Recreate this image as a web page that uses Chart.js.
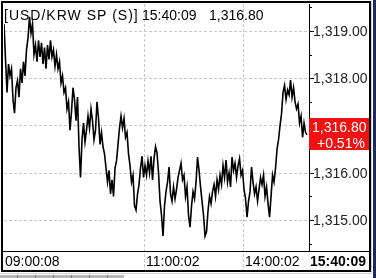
<!DOCTYPE html>
<html>
<head>
<meta charset="utf-8">
<script src="https://cdn.jsdelivr.net/npm/chart.js@4.4.1/dist/chart.umd.min.js"></script>
<style>
    html, body { margin: 0; padding: 0; background: #fff; }
    canvas { display: block; }
</style>
</head>
<body>
<canvas id="chart" width="376" height="278"></canvas>
<script>
// Tick prices, left to right
const prices = [
    1319.15, 1318.40, 1317.70, 1318.30, 1318.05, 1318.20, 1317.55, 1317.26,
    1317.80, 1317.95, 1317.60, 1318.20, 1317.90, 1318.35, 1318.05, 1318.60,
    1318.85, 1319.30, 1318.95, 1319.15, 1318.50, 1318.70, 1318.35, 1318.80,
    1318.45, 1318.75, 1318.30, 1318.65, 1318.20, 1318.70, 1318.40, 1318.80,
    1318.45, 1318.60, 1318.25, 1318.50, 1318.20, 1318.35, 1317.90, 1318.05,
    1317.70, 1317.80, 1317.35, 1317.50, 1316.90, 1317.30, 1317.80, 1317.55,
    1317.10, 1317.60, 1316.55, 1315.90, 1316.70, 1317.05, 1316.65, 1316.90,
    1317.20, 1316.95, 1317.35, 1317.10, 1316.70, 1316.90, 1317.50, 1317.15,
    1316.60, 1316.85, 1316.55, 1316.40, 1316.10, 1315.80, 1316.05, 1315.55,
    1315.85, 1315.50, 1316.10, 1316.25, 1316.60, 1316.95, 1317.20, 1316.95,
    1317.15, 1316.75, 1316.85, 1316.40, 1316.15, 1315.80, 1315.95, 1315.30,
    1315.21, 1315.55, 1315.75, 1316.10, 1316.35, 1315.90, 1316.15, 1315.95,
    1316.25, 1316.00, 1316.35, 1315.85, 1316.30, 1316.55, 1316.42, 1316.00,
    1315.40, 1315.10, 1314.66, 1315.30, 1315.60, 1315.80, 1316.12, 1315.55,
    1315.40, 1315.70, 1315.45, 1315.65, 1315.90, 1316.05, 1316.20, 1315.85,
    1315.95, 1315.50, 1315.70, 1315.10, 1314.85, 1315.30, 1315.60, 1315.45,
    1315.80, 1316.33, 1316.05, 1315.70, 1315.40, 1315.10, 1314.66, 1314.75,
    1315.20, 1315.50, 1315.35, 1315.60, 1315.75, 1315.50, 1315.85, 1315.65,
    1315.95, 1315.75, 1316.15, 1315.90, 1316.27, 1315.80, 1316.00, 1315.70,
    1316.33, 1316.05, 1316.20, 1315.90, 1316.15, 1316.30, 1315.95, 1316.05,
    1315.65, 1315.45, 1315.06, 1315.40, 1315.60, 1316.12, 1315.80, 1315.55,
    1315.70, 1315.40, 1315.65, 1315.90, 1315.75, 1315.95, 1315.50, 1315.70,
    1315.35, 1315.06, 1315.50, 1315.95, 1315.80, 1316.10, 1316.50, 1316.70,
    1317.00, 1317.25, 1317.70, 1317.85, 1317.55, 1317.75, 1317.65, 1317.96,
    1317.60, 1317.80, 1317.50, 1317.35, 1317.45, 1317.05, 1317.20, 1316.75,
    1317.05, 1316.85, 1316.80
];

const timeTickIndex = [0, 93, 159];
const timeTickLabels = ['09:00:08', '11:00:02', '14:00:02'];
const lastTime = '15:40:09';
const yTicks = [1315, 1316, 1317, 1318, 1319];
const yMinorTicks = [1314.5, 1315.5, 1316.5, 1317.5, 1318.5, 1319.5];
const symbol = '[USD/KRW SP (S)]';
const changePct = '+0.51%';

const lastPrice = prices[prices.length - 1];
const FONT = '14px "Liberation Sans", Arial, sans-serif';
const BOLD = 'bold 14px "Liberation Sans", Arial, sans-serif';

function fmt(v) {
    return v.toLocaleString('en-US', { minimumFractionDigits: 2, maximumFractionDigits: 2 });
}

const quoteFrame = {
    id: 'quoteFrame',
    beforeDraw(chart) {
        const ctx = chart.ctx;
        ctx.save();
        ctx.fillStyle = '#fff';
        ctx.fillRect(0, 0, chart.width, chart.height);
        ctx.restore();
    },
    beforeDatasetsDraw(chart) {
        const { ctx, chartArea: a, scales: { x, y } } = chart;
        ctx.save();
        ctx.strokeStyle = '#c8c8c8';
        ctx.lineWidth = 1;
        ctx.setLineDash([3, 2]);
        yTicks.forEach(v => {
            const py = Math.round(y.getPixelForValue(v)) + 0.5;
            ctx.beginPath();
            ctx.moveTo(a.left, py);
            ctx.lineTo(a.right, py);
            ctx.stroke();
        });
        timeTickIndex.slice(1).forEach(i => {
            const px = Math.round(x.getPixelForValue(i)) + 0.5;
            ctx.beginPath();
            ctx.moveTo(px, a.top);
            ctx.lineTo(px, 270);
            ctx.stroke();
        });
        ctx.restore();
    },
    afterDatasetsDraw(chart) {
        const { ctx, chartArea: a, scales: { x, y } } = chart;
        ctx.save();

        // title (the original font is wider, so letters are spread a little)
        ctx.fillStyle = '#000';
        ctx.font = FONT;
        ctx.textBaseline = 'alphabetic';
        ctx.letterSpacing = '1px';
        ctx.fillText(symbol, 4, 20);
        ctx.letterSpacing = '0px';
        ctx.fillText(lastTime, 142, 20);
        ctx.fillText(fmt(lastPrice), 209, 20);

        // axis lines
        ctx.strokeStyle = '#000';
        ctx.lineWidth = 1;
        ctx.beginPath();
        ctx.moveTo(a.right + 0.5, a.top);
        ctx.lineTo(a.right + 0.5, a.bottom);
        ctx.moveTo(3, a.bottom + 0.5);
        ctx.lineTo(370, a.bottom + 0.5);
        ctx.stroke();

        // y ticks and labels, clipped by the frame
        ctx.beginPath();
        ctx.rect(a.right, a.top, 369 - a.right, a.bottom - a.top);
        ctx.clip();
        ctx.beginPath();
        yTicks.forEach(v => {
            const py = Math.round(y.getPixelForValue(v)) + 0.5;
            ctx.moveTo(a.right, py);
            ctx.lineTo(a.right + 5, py);
        });
        yMinorTicks.forEach(v => {
            const py = Math.round(y.getPixelForValue(v)) + 0.5;
            ctx.moveTo(a.right, py);
            ctx.lineTo(a.right + 3, py);
        });
        ctx.stroke();
        ctx.fillStyle = '#222';
        ctx.textBaseline = 'middle';
        yTicks.forEach(v => {
            ctx.fillText(fmt(v), a.right + 4, y.getPixelForValue(v) + 1);
        });

        // current price box
        const py = Math.round(y.getPixelForValue(lastPrice));
        ctx.fillStyle = '#f21010';
        ctx.fillRect(a.right, py - 17, 369 - a.right, 32);
        ctx.fillStyle = '#fff';
        ctx.textBaseline = 'alphabetic';
        ctx.fillText(fmt(lastPrice), a.right + 3, py - 3);
        ctx.fillText(changePct, a.right + 8, py + 13);
        ctx.restore();

        // time labels
        ctx.save();
        ctx.fillStyle = '#000';
        ctx.font = FONT;
        ctx.textBaseline = 'alphabetic';
        timeTickIndex.forEach((idx, k) => {
            const px = Math.round(x.getPixelForValue(idx));
            ctx.fillText(timeTickLabels[k], px + (k === 0 ? 1 : 2), 266);
        });
        ctx.font = BOLD;
        ctx.textAlign = 'right';
        ctx.fillText(lastTime, 366, 266);

        // outer frame
        ctx.strokeStyle = '#000';
        ctx.lineWidth = 2;
        ctx.strokeRect(2, 2, 368, 269);
        ctx.strokeStyle = '#d0d0d0';
        ctx.lineWidth = 1;
        ctx.beginPath();
        ctx.moveTo(371.5, 1);
        ctx.lineTo(371.5, 273.5);
        ctx.lineTo(0, 273.5);
        ctx.stroke();
        ctx.fillStyle = '#1e2a5e';
        ctx.fillRect(373, 0, 3, 278);

        // tab strip below the window
        ctx.fillStyle = '#b8b8b8';
        ctx.fillRect(0, 275, 124, 3);
        ctx.fillStyle = '#7a7a7a';
        for (let t = 17; t < 124; t += 18) {
            ctx.fillRect(t, 275, 1, 3);
        }
        ctx.restore();
    }
};

new Chart(document.getElementById('chart'), {
    type: 'line',
    data: {
        datasets: [{
            data: prices.map((p, i) => ({ x: i, y: p })),
            borderColor: '#000',
            borderWidth: 1.6,
            pointRadius: 0,
            tension: 0,
            fill: false
        }]
    },
    options: {
        responsive: false,
        devicePixelRatio: 1,
        animation: false,
        layout: { padding: { left: 4, top: 4, right: 67, bottom: 27 } },
        plugins: {
            legend: { display: false },
            tooltip: { enabled: false }
        },
        scales: {
            x: { type: 'linear', display: false, min: 0, max: 203.3 },
            y: { type: 'linear', display: false, min: 1314.344, max: 1319.571 }
        }
    },
    plugins: [quoteFrame]
});
</script>
</body>
</html>
